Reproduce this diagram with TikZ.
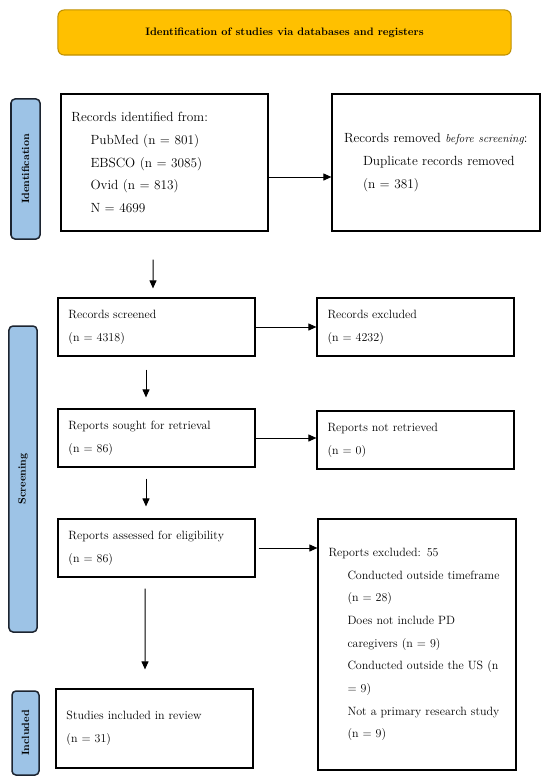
\documentclass[tikz,border=0pt]{standalone}
\usetikzlibrary{arrows.meta}
\definecolor{bannerfill}{HTML}{FFC000}
\definecolor{bannerdraw}{HTML}{BF9000}
\definecolor{sidefill}{HTML}{9DC3E6}
\definecolor{sidedraw}{HTML}{1C2430}
\newcommand{\ind}{\hspace*{19bp}}
\begin{document}
\begin{tikzpicture}[x=1bp,y=-1bp,
  box/.style={draw=black, line width=1.2bp, fill=white, inner xsep=10.5bp, inner ysep=0bp,
    align=left, font=\fontsize{12bp}{22.7bp}\selectfont},
  bigbox/.style={box, font=\fontsize{13.3bp}{22.7bp}\selectfont},
  side/.style={draw=sidedraw, line width=1.5bp, fill=sidefill, rounded corners=4bp, rotate=90,
    inner sep=0bp, font=\fontsize{10.5bp}{12bp}\selectfont\bfseries},
  banner/.style={draw=bannerdraw, line width=1bp, fill=bannerfill, rounded corners=6bp,
    font=\fontsize{10.8bp}{12bp}\selectfont\bfseries},
  arr/.style={line width=1bp, -{Triangle[length=8bp,width=7bp]}}]
\useasboundingbox (0,0) rectangle (550,781);

\node[banner, minimum width=453bp, minimum height=45bp] (ban) at (284.5,32.5)
  {Identification of studies via databases and registers};

\node[side, minimum width=140bp, minimum height=29bp] (s1) at (25.5,169) {Identification};
\node[side, minimum width=306bp, minimum height=28bp] (s2) at (23,479) {Screening};
\node[side, minimum width=84bp, minimum height=27bp] (s3) at (25.5,733) {Included};

\node[bigbox, minimum width=207bp, minimum height=137bp, text width=186bp] (b1) at (164.5,162.5)
  {Records identified from:\\ \ind PubMed (n = 801)\\ \ind EBSCO (n = 3085)\\ \ind Ovid (n = 813)\\ \ind N = 4699};
\node[bigbox, minimum width=208bp, minimum height=137bp, text width=190bp, inner xsep=9bp] (b2) at (436,162.5)
  {\mbox{\hspace*{3bp}Records removed {\fontsize{11.6bp}{22.7bp}\selectfont\itshape before screening}:}\\ \ind\hspace*{3bp}Duplicate records removed\\ \ind\hspace*{3bp}(n = 381)};
\node[box, minimum width=197bp, minimum height=58bp, text width=176bp] (b3) at (156.5,327)
  {Records screened\\ (n = 4318)};
\node[box, minimum width=197bp, minimum height=58bp, text width=176bp] (b4) at (415.5,327)
  {Records excluded\\ (n = 4232)};
\node[box, minimum width=197bp, minimum height=58bp, text width=176bp] (b5) at (156.5,438)
  {Reports sought for retrieval\\ (n = 86)};
\node[box, minimum width=197bp, minimum height=58bp, text width=176bp] (b6) at (415.5,440)
  {Reports not retrieved\\ (n = 0)};
\node[box, minimum width=197bp, minimum height=58bp, text width=176bp] (b7) at (156.5,548)
  {Reports assessed for eligibility\\ (n = 86)};
\node[box, minimum width=198bp, minimum height=251bp, text width=177bp] (b8) at (417,644.5)
  {Reports excluded: 55\\
   \ind Conducted outside timeframe\\
   \ind (n = 28)\\
   \ind Does not include PD\\
   \ind caregivers (n = 9)\\
   \ind Conducted outside the US (n\\
   \ind = 9)\\
   \ind Not a primary research study\\
   \ind (n = 9)};
\node[box, minimum width=197bp, minimum height=79bp, text width=176bp] (b9) at (154.5,728.5)
  {Studies included in review\\ (n = 31)};

\draw[arr] ([yshift=-14.5bp]b1.east) -- ([yshift=-14.5bp]b2.west);
\draw[arr] (b3.east) -- (b4.west);
\draw[arr] (b5.east) -- (b5.east -| b6.west);
\draw[arr, shorten <=3bp] (b7.east) -- (b7.east -| b8.west);

\draw[arr] ([xshift=-11.5bp,yshift=-28bp]b1.south) -- ([xshift=-3.5bp,yshift=9bp]b3.north);
\draw[arr] ([xshift=-10.5bp,yshift=-13bp]b3.south) -- ([xshift=-10.5bp,yshift=11bp]b5.north);
\draw[arr] ([xshift=-10.5bp,yshift=-11bp]b5.south) -- ([xshift=-10.5bp,yshift=12bp]b7.north);
\draw[arr] ([xshift=-11.5bp,yshift=-11bp]b7.south) -- ([xshift=-9.5bp,yshift=19bp]b9.north);
\end{tikzpicture}
\end{document}
